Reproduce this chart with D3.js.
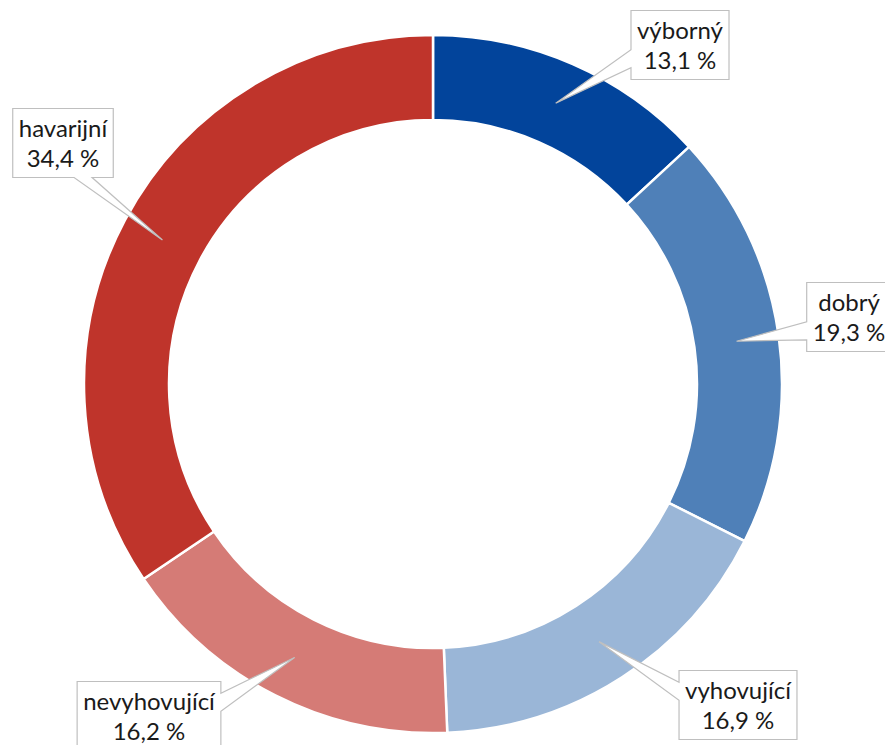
<!DOCTYPE html>
<html>
<head>
<meta charset="utf-8">
<script src="https://cdn.jsdelivr.net/npm/d3@7"></script>
<style>
  html, body { margin: 0; padding: 0; background: #fff; }
  #chart { width: 885px; height: 745px; }
  text { font-family: Lato, 'Open Sans', sans-serif; }
</style>
</head>
<body>
<div id="chart"></div>
<script>
var categories = ['výborný', 'dobrý', 'vyhovující', 'nevyhovující', 'havarijní']
var values = [13.1, 19.3, 16.9, 16.2, 34.4]
var valueLabels = ['13,1 %', '19,3 %', '16,9 %', '16,2 %', '34,4 %']
var colors = ['#02449b', '#4f80b8', '#9ab6d7', '#d57b76', '#bf342b']

// label box centres, relative to the donut centre (layout only)
var labelOffsets = [[247, -339], [416, -67], [305, 321], [-284, 332], [-370, -241]]

var width = 885
var height = 745
var cx = 433
var cy = 384
var outerRadius = 349
var innerRadius = 264

var dataset = categories.map(function(c, i) {
  return { label: c, value: values[i], text: valueLabels[i], color: colors[i], offset: labelOffsets[i] }
})

var svg = d3.select('#chart')
            .append('svg')
            .attr('width', width)
            .attr('height', height)

var g = svg.append('g')
           .attr('transform', 'translate(' + cx + ',' + cy + ')')

var pieGenerator = d3.pie()
                     .value(function(d) { return d.value })
                     .sort(null)

var arc = d3.arc()
            .innerRadius(innerRadius)
            .outerRadius(outerRadius)

var arcs = pieGenerator(dataset)

g.selectAll('path.slice')
  .data(arcs)
  .enter()
  .append('path')
    .attr('class', 'slice')
    .attr('d', arc)
    .attr('fill', function(d) { return d.data.color })
    .attr('stroke', '#fff')
    .attr('stroke-width', 2.5)

// callout labels
var boxH = 69
var padX = 6
var baseW = 18

var labels = g.selectAll('g.callout')
              .data(arcs)
              .enter()
              .append('g')
                .attr('class', 'callout')

labels.each(function(d) {
  var el = d3.select(this)
  var tip = arc.centroid(d)
  var bx = d.data.offset[0]
  var by = d.data.offset[1]

  var outline = el.append('path')
                  .attr('fill', '#fff')
                  .attr('stroke', '#bfbfbf')
                  .attr('stroke-width', 1.2)

  var t1 = el.append('text')
             .attr('x', bx)
             .attr('y', by - 6.5)
             .attr('text-anchor', 'middle')
             .attr('font-size', 24)
             .attr('fill', '#1a1a1a')
             .text(d.data.label)
  var t2 = el.append('text')
             .attr('x', bx)
             .attr('y', by + 23.5)
             .attr('text-anchor', 'middle')
             .attr('font-size', 24)
             .attr('fill', '#1a1a1a')
             .text(d.data.text)

  var tw = Math.max(t1.node().getComputedTextLength(), t2.node().getComputedTextLength())
  var w = tw + padX * 2
  var x0 = bx - w / 2, x1 = bx + w / 2
  var y0 = by - boxH / 2, y1 = by + boxH / 2

  var dx = tip[0] - bx, dy = tip[1] - by
  var side
  if (Math.abs(dx) / w > Math.abs(dy) / boxH) side = dx < 0 ? 'left' : 'right'
  else side = dy < 0 ? 'top' : 'bottom'

  var p = d3.path()
  p.moveTo(x0, y0)
  if (side === 'top') {
    var c = x0 + w * (dx > 0 ? 0.7 : 0.3)
    p.lineTo(c - baseW / 2, y0); p.lineTo(tip[0], tip[1]); p.lineTo(c + baseW / 2, y0)
  }
  p.lineTo(x1, y0)
  if (side === 'right') {
    var c = y0 + boxH * (dy > 0 ? 0.7 : 0.3)
    p.lineTo(x1, c - baseW / 2); p.lineTo(tip[0], tip[1]); p.lineTo(x1, c + baseW / 2)
  }
  p.lineTo(x1, y1)
  if (side === 'bottom') {
    var c = x0 + w * (dx > 0 ? 0.7 : 0.3)
    p.lineTo(c + baseW / 2, y1); p.lineTo(tip[0], tip[1]); p.lineTo(c - baseW / 2, y1)
  }
  p.lineTo(x0, y1)
  if (side === 'left') {
    var c = y0 + boxH * (dy > 0 ? 0.7 : 0.3)
    p.lineTo(x0, c + baseW / 2); p.lineTo(tip[0], tip[1]); p.lineTo(x0, c - baseW / 2)
  }
  p.closePath()
  outline.attr('d', p.toString())
})
</script>
</body>
</html>
